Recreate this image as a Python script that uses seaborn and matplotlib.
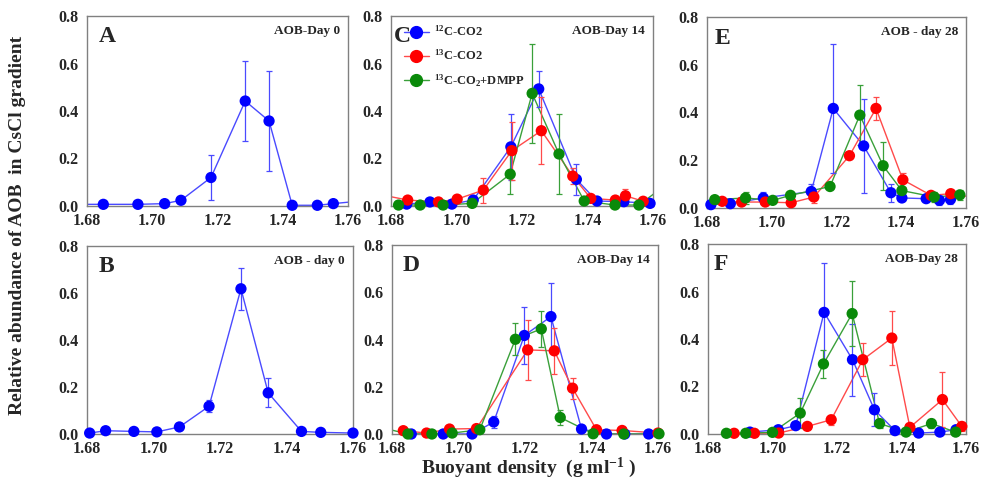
import numpy as np
import pandas as pd
import seaborn as sns
import matplotlib.pyplot as plt
from matplotlib.lines import Line2D

# ---- data (buoyant density, relative abundance, error) ----
treatments = ["12C-CO2", "13C-CO2", "13C-CO2+DMPP"]

A_x = [1.676, 1.685, 1.6956, 1.7038, 1.7088, 1.718, 1.7285, 1.7358, 1.7429, 1.7506, 1.7555, 1.763]
A_y = [0.007, 0.007, 0.007, 0.010, 0.024, 0.120, 0.442, 0.358, 0.003, 0.003, 0.010, 0.020]
A_err = [0, 0, 0, 0, 0, 0.095, 0.167, 0.21, 0, 0, 0, 0]

B_x = [1.6808, 1.6856, 1.6941, 1.7010, 1.7078, 1.7167, 1.7263, 1.7345, 1.7445, 1.7503, 1.7600]
B_y = [0.004, 0.014, 0.011, 0.009, 0.030, 0.118, 0.618, 0.175, 0.011, 0.007, 0.004]
B_err = [0, 0, 0, 0, 0, 0.026, 0.089, 0.062, 0, 0, 0]

C12_x = [1.6848, 1.6919, 1.6986, 1.7051, 1.7166, 1.7251, 1.7366, 1.7429, 1.7511, 1.7591]
C12_y = [0.008, 0.017, 0.008, 0.025, 0.249, 0.493, 0.112, 0.021, 0.018, 0.011]
C12_err = [0, 0, 0, 0.01, 0.14, 0.077, 0.064, 0, 0, 0]
C13_x = [1.676, 1.6851, 1.6945, 1.7002, 1.7082, 1.7169, 1.7259, 1.7355, 1.7410, 1.7485, 1.7516, 1.757]
C13_y = [0.050, 0.025, 0.017, 0.029, 0.067, 0.233, 0.317, 0.126, 0.032, 0.025, 0.043, 0.020]
C13_err = [0, 0, 0, 0, 0.053, 0.122, 0.14, 0.035, 0, 0, 0.03, 0]
CD_x = [1.6823, 1.6889, 1.6959, 1.7048, 1.7164, 1.7231, 1.7313, 1.7390, 1.7484, 1.7557, 1.764]
CD_y = [0.004, 0.004, 0.004, 0.011, 0.134, 0.474, 0.219, 0.021, 0.004, 0.004, 0.090]
CD_err = [0, 0, 0, 0, 0.085, 0.21, 0.167, 0, 0, 0, 0]

D12_x = [1.6858, 1.6954, 1.7041, 1.7106, 1.7198, 1.7278, 1.7370, 1.7445, 1.7500, 1.7572]
D12_y = [0.0, 0.0, 0.0, 0.051, 0.417, 0.497, 0.021, 0.0, 0.0, 0.0]
D12_err = [0, 0, 0, 0.024, 0.122, 0.143, 0, 0, 0, 0]
D13_x = [1.6834, 1.6904, 1.6973, 1.7054, 1.7208, 1.7288, 1.7343, 1.7415, 1.7492, 1.7600]
D13_y = [0.014, 0.004, 0.021, 0.023, 0.356, 0.352, 0.194, 0.018, 0.015, 0.004]
D13_err = [0, 0, 0, 0, 0.128, 0.097, 0.044, 0, 0, 0]
DD_x = [1.676, 1.6848, 1.6920, 1.6981, 1.7064, 1.7171, 1.7249, 1.7306, 1.7405, 1.7497, 1.7603]
DD_y = [0.030, 0.0, 0.0, 0.004, 0.018, 0.401, 0.445, 0.070, 0.001, 0.0, 0.001]
DD_err = [0, 0, 0, 0, 0, 0.068, 0.077, 0.03, 0, 0, 0]

E12_x = [1.6812, 1.6872, 1.6974, 1.7122, 1.7190, 1.7284, 1.7368, 1.7402, 1.7477, 1.7518, 1.7552]
E12_y = [0.014, 0.018, 0.042, 0.069, 0.417, 0.260, 0.064, 0.042, 0.039, 0.032, 0.036]
E12_err = [0, 0, 0.024, 0.03, 0.27, 0.197, 0.038, 0, 0, 0.02, 0.02]
E13_x = [1.6847, 1.6907, 1.6980, 1.7060, 1.7130, 1.7240, 1.7322, 1.7405, 1.7492, 1.7553, 1.764]
E13_y = [0.028, 0.025, 0.025, 0.022, 0.046, 0.219, 0.417, 0.118, 0.053, 0.060, 0.040]
E13_err = [0, 0, 0, 0, 0.025, 0, 0.047, 0.028, 0, 0, 0]
ED_x = [1.6824, 1.6919, 1.7003, 1.7058, 1.7180, 1.7272, 1.7344, 1.7402, 1.7502, 1.7581]
ED_y = [0.035, 0.042, 0.032, 0.053, 0.090, 0.389, 0.177, 0.073, 0.046, 0.055]
ED_err = [0, 0.024, 0, 0, 0, 0.127, 0.1, 0.035, 0.02, 0.02]

F12_x = [1.6930, 1.7018, 1.7072, 1.7160, 1.7248, 1.7316, 1.7380, 1.7453, 1.7519, 1.7569]
F12_y = [0.008, 0.018, 0.035, 0.512, 0.313, 0.102, 0.014, 0.004, 0.008, 0.018]
F12_err = [0, 0, 0, 0.21, 0.152, 0.07, 0, 0, 0, 0]
F13_x = [1.6881, 1.6944, 1.7019, 1.7108, 1.7182, 1.7280, 1.7370, 1.7426, 1.7527, 1.7587]
F13_y = [0.003, 0.003, 0.004, 0.032, 0.060, 0.313, 0.404, 0.028, 0.145, 0.032]
F13_err = [0, 0, 0, 0, 0.02, 0.07, 0.115, 0, 0.115, 0.02]
FD_x = [1.6857, 1.6917, 1.7000, 1.7086, 1.7158, 1.7247, 1.7332, 1.7414, 1.7493, 1.7568]
FD_y = [0.003, 0.003, 0.007, 0.088, 0.295, 0.507, 0.044, 0.008, 0.044, 0.008]
FD_err = [0, 0, 0, 0.064, 0.06, 0.138, 0.02, 0, 0.02, 0]

panels = {
    "A": ("AOB-Day 0", [(treatments[0], A_x, A_y, A_err)]),
    "B": ("AOB - day 0", [(treatments[0], B_x, B_y, B_err)]),
    "C": ("AOB-Day 14", [(treatments[0], C12_x, C12_y, C12_err),
                         (treatments[1], C13_x, C13_y, C13_err),
                         (treatments[2], CD_x, CD_y, CD_err)]),
    "D": ("AOB-Day 14", [(treatments[0], D12_x, D12_y, D12_err),
                         (treatments[1], D13_x, D13_y, D13_err),
                         (treatments[2], DD_x, DD_y, DD_err)]),
    "E": ("AOB - day 28", [(treatments[0], E12_x, E12_y, E12_err),
                           (treatments[1], E13_x, E13_y, E13_err),
                           (treatments[2], ED_x, ED_y, ED_err)]),
    "F": ("AOB-Day 28", [(treatments[0], F12_x, F12_y, F12_err),
                         (treatments[1], F13_x, F13_y, F13_err),
                         (treatments[2], FD_x, FD_y, FD_err)]),
}

marker_colors = dict(zip(treatments, ["#0000ff", "#ff0000", "#0a8a0a"]))
line_colors = dict(zip(treatments, ["#4a4aff", "#ff4a4a", "#3aa03a"]))

sns.set_theme(style="white")
plt.rcParams["font.family"] = ["Liberation Serif", "DejaVu Serif"]
plt.rcParams["font.weight"] = "bold"
plt.rcParams["mathtext.fontset"] = "custom"
plt.rcParams["mathtext.rm"] = "Liberation Serif:bold"
plt.rcParams["mathtext.it"] = "Liberation Serif:bold"
plt.rcParams["mathtext.bf"] = "Liberation Serif:bold"

fig = plt.figure(figsize=(9.83, 4.83), dpi=100)
W, H = 983, 483

# axes boxes in pixels: left, top, right, bottom
boxes = {
    "A": (87, 16, 348, 206), "C": (391, 16, 653, 206), "E": (707, 17, 966, 208),
    "B": (87, 246, 353, 434), "D": (392, 245, 658, 434), "F": (708, 244, 966, 434),
}
# where the panel letter sits (fraction of axes width)
letter_x = {"A": 0.046, "B": 0.045, "C": 0.012, "D": 0.04, "E": 0.03, "F": 0.02}

for key, (title, series) in panels.items():
    l, t, r, b = boxes[key]
    ax = fig.add_axes([l / W, 1 - b / H, (r - l) / W, (b - t) / H])
    frames = []
    for name, xs, ys, es in series:
        frames.append(pd.DataFrame({"density": xs, "abundance": ys, "err": es, "treatment": name}))
    df = pd.concat(frames, ignore_index=True)

    sns.lineplot(data=df, x="density", y="abundance", hue="treatment", palette=line_colors,
                 estimator=None, sort=False, linewidth=1, legend=False, ax=ax)
    for name, sub in df.groupby("treatment"):
        sub = sub[sub["err"] > 0]
        ax.errorbar(sub["density"], sub["abundance"], yerr=sub["err"], fmt="none",
                    ecolor=line_colors[name], elinewidth=0.9, capsize=2.5, capthick=0.9)
    inside = df[(df["density"] >= 1.6795) & (df["density"] <= 1.7605)]
    sns.scatterplot(data=inside, x="density", y="abundance", hue="treatment",
                    palette=marker_colors, s=66, edgecolor="none", legend=False,
                    clip_on=False, zorder=4, ax=ax)

    ax.set_xlim(1.68, 1.76)
    ax.set_ylim(0, 0.8)
    ax.set_xticks([1.68, 1.70, 1.72, 1.74, 1.76])
    ax.set_xticklabels(["1.68", "1.70", "1.72", "1.74", "1.76"])
    ax.set_yticks([0, 0.2, 0.4, 0.6, 0.8])
    ax.set_yticklabels(["0.0", "0.2", "0.4", "0.6", "0.8"])
    ax.tick_params(axis="both", length=0, labelsize=11.5)
    ax.tick_params(axis="y", pad=6)
    ax.tick_params(axis="x", pad=5)
    for lab in ax.get_xticklabels() + ax.get_yticklabels():
        lab.set_fontweight("bold")
    ax.set_xlabel("")
    ax.set_ylabel("")
    for sp in ax.spines.values():
        sp.set_color("#808080")
        sp.set_linewidth(1.0)

    ax.text(letter_x[key], 0.89, key, transform=ax.transAxes, fontsize=17, fontweight="bold",
            ha="left", va="center", zorder=1)
    ax.text(0.97, 0.92, title, transform=ax.transAxes, fontsize=9.5, fontweight="bold",
            ha="right", va="center")

    if key == "C":
        handles = [Line2D([], [], color=line_colors[n], marker="o", markersize=8.5,
                          markerfacecolor=marker_colors[n], markeredgecolor=marker_colors[n],
                          linewidth=1) for n in treatments]
        labels = ["$^{12}$C-CO2", "$^{13}$C-CO2", "$^{13}$C-CO$_2$+DMPP"]
        ax.legend(handles, labels, loc="upper left", bbox_to_anchor=(0.02, 0.995),
                  frameon=False, fontsize=9, handlelength=2.0, handletextpad=0.4,
                  labelspacing=0.75, borderaxespad=0.2)

fig.text(18 / W, 1 - 225 / H, "Relative abundance of AOB  in CsCl gradient",
         rotation=90, ha="center", va="center", fontsize=14, fontweight="bold")
fig.text(529 / W, 1 - 468 / H, "Buoyant density  (g ml$^{-1}$ )",
         ha="center", va="center", fontsize=14, fontweight="bold")

fig.savefig("out.png", dpi=100)
